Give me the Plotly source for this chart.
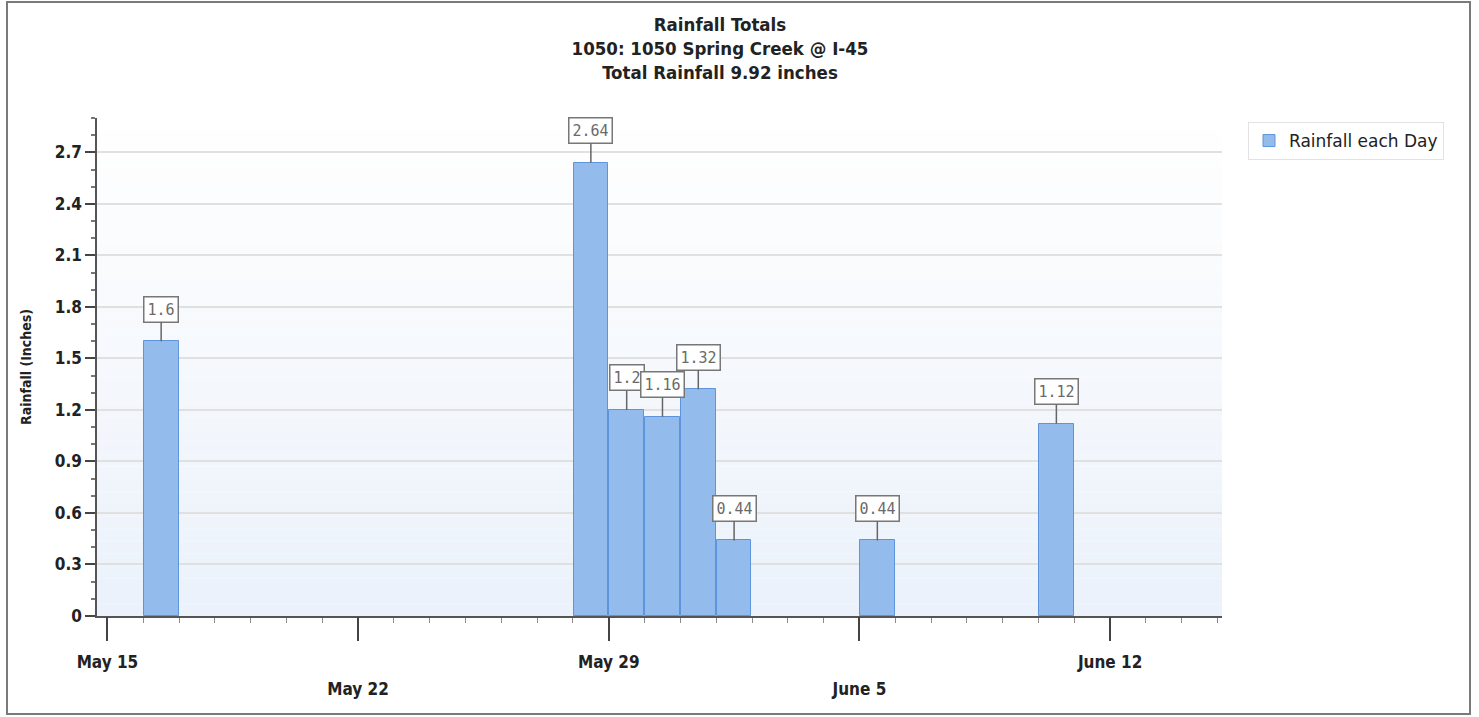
import pandas as pd
import plotly.graph_objects as go

# Daily rainfall (inches) at gauge 1050
days = ["2015-05-16", "2015-05-28", "2015-05-29", "2015-05-30",
        "2015-05-31", "2015-06-01", "2015-06-05", "2015-06-10"]
rain = [1.6, 2.64, 1.2, 1.16, 1.32, 0.44, 0.44, 1.12]

week_ticks = ["2015-05-15", "2015-05-22", "2015-05-29", "2015-06-05", "2015-06-12"]
week_labels = ["May 15", "May 22", "May 29", "June 5", "June 12"]

W, H = 1479, 717
ML, MR, MT, MB = 97, 257, 118, 101
PW, PH = W - ML - MR, H - MT - MB

DAY_MS = 86400000
total = sum(rain)

SANS = "DejaVu Sans Condensed, DejaVu Sans, sans-serif"
MONO = "DejaVu Sans Mono, Liberation Mono, monospace"

fig = go.Figure()

fig.add_trace(go.Bar(
    x=days, y=rain, name="Rainfall each Day",
    xperiod=DAY_MS, xperiodalignment="middle",
    width=DAY_MS * 0.97,
    marker=dict(color="#93bbec", line=dict(color="#5e94dc", width=1)),
    hoverinfo="x+y",
))

# staggered week labels: even ones on the main axis, odd ones on a second row
upper = [t for i, t in enumerate(week_labels) if i % 2 == 0]
upper_v = [v for i, v in enumerate(week_ticks) if i % 2 == 0]
lower_text = [t if i % 2 == 1 else "" for i, t in enumerate(week_labels)]

fig.add_trace(go.Scatter(x=[week_ticks[0]], y=[0], xaxis="x2", mode="markers",
                         marker=dict(opacity=0), showlegend=False, hoverinfo="skip"))

x_range = ["2015-05-14 17:00", "2015-06-15 03:00"]
tick_font = dict(family=SANS, size=17, color="#222", weight="bold")

# value labels in boxes with a leader line down to the bar top
for d, v in zip(days, rain):
    xc = pd.Timestamp(d) + pd.Timedelta(hours=12)
    fig.add_annotation(
        x=xc, y=v, text=f"{v:g}", showarrow=True, arrowhead=0,
        arrowwidth=1.5, arrowcolor="#666", ax=0, ay=-32,
        font=dict(family=MONO, size=15, color="#6a6a6a"),
        bgcolor="white", bordercolor="#777", borderwidth=1.5, borderpad=3,
    )

# soft vertical wash behind the plot area
n_bands = 40
for i in range(n_bands):
    t = i / (n_bands - 1)
    r = int(255 - (255 - 236) * t)
    g = int(255 - (255 - 242) * t)
    b = int(255 - (255 - 251) * t)
    fig.add_shape(type="rect", xref="x domain", yref="y domain",
                  x0=0, x1=1, y0=1 - (i + 1) / n_bands, y1=1 - i / n_bands,
                  fillcolor=f"rgb({r},{g},{b})", line=dict(width=0), layer="below")


def px_x(p):
    return (p - ML) / PW


def px_y(p):
    return (H - MB - p) / PH


# outer frame around the whole chart
fig.add_shape(type="rect", xref="paper", yref="paper",
              x0=px_x(7), x1=px_x(1470), y0=px_y(714), y1=px_y(2),
              line=dict(color="#7a7a7a", width=2), fillcolor="rgba(0,0,0,0)")

fig.update_layout(
    width=W, height=H,
    margin=dict(l=ML, r=MR, t=MT, b=MB),
    paper_bgcolor="white", plot_bgcolor="white",
    bargap=0,
    title=dict(
        text=f"Rainfall Totals<br>1050: 1050 Spring Creek @ I-45<br>Total Rainfall {total:.2f} inches",
        x=720 / W, xanchor="center", y=1 - 31 / H, yanchor="top",
        font=dict(family=SANS, size=18.5, color="#222", weight="bold"),
    ),
    xaxis=dict(
        type="date", range=x_range,
        tickvals=upper_v, ticktext=upper,
        tickfont=tick_font,
        ticks="", ticklabelstandoff=30,
        showgrid=False, zeroline=False,
        showline=True, linecolor="#555", linewidth=2,
        minor=dict(dtick=DAY_MS, tick0="2015-05-15", ticks="outside", ticklen=5,
                   tickcolor="#8a8a8a", tickwidth=1, showgrid=False),
    ),
    xaxis2=dict(
        type="date", range=x_range, overlaying="x", side="bottom", anchor="y",
        tickvals=week_ticks, ticktext=lower_text,
        tickfont=tick_font,
        ticks="outside", ticklen=24, tickcolor="#444", tickwidth=1.5,
        ticklabelstandoff=34,
        showgrid=False, zeroline=False, showline=False,
    ),
    yaxis=dict(
        range=[0, 2.9], dtick=0.3, tick0=0,
        tickfont=tick_font,
        ticks="outside", ticklen=10, tickcolor="#444", tickwidth=1.5,
        showline=True, linecolor="#555", linewidth=1.5,
        showgrid=True, gridcolor="#e0e0e0", gridwidth=1.5,
        zeroline=False,
        minor=dict(dtick=0.1, ticks="outside", ticklen=4, tickcolor="#777", showgrid=False),
        title=dict(text="Rainfall (Inches)", standoff=20,
                   font=dict(family=SANS, size=14, color="#222", weight="bold")),
    ),
    legend=dict(
        x=px_x(1248), y=px_y(122), xanchor="left", yanchor="top",
        bgcolor="white", bordercolor="#e2e2e2", borderwidth=1,
        font=dict(family="DejaVu Sans, sans-serif", size=17, color="#222"),
    ),
    showlegend=True,
)

fig.write_html("out.html")
